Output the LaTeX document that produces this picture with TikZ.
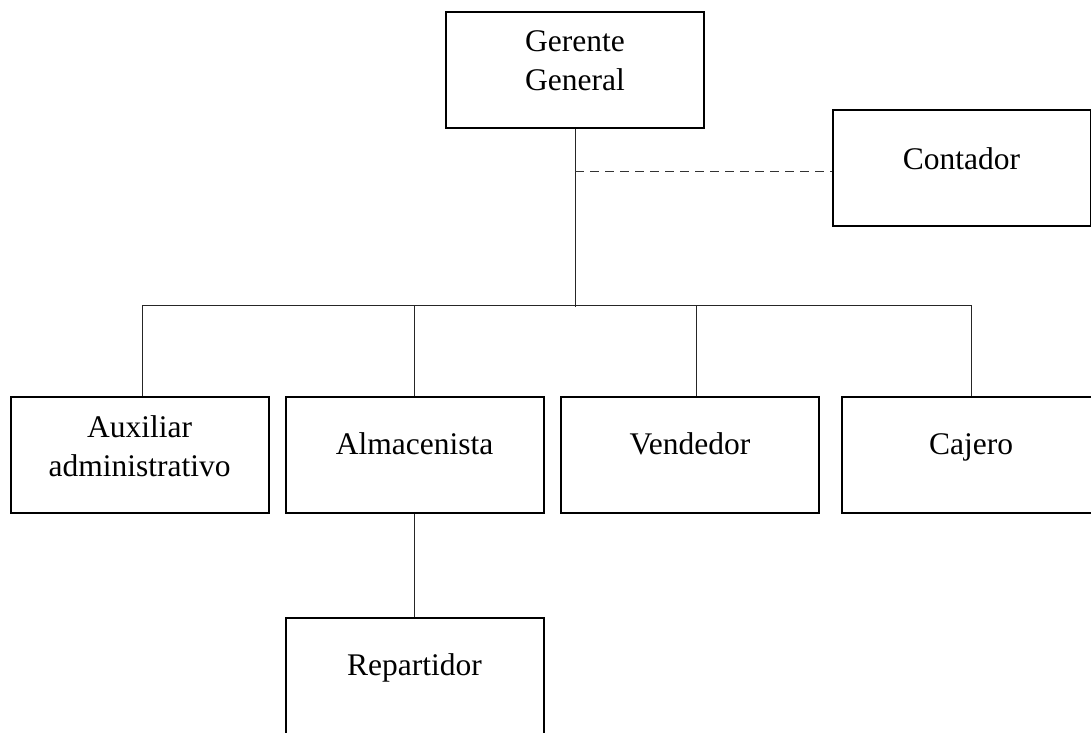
\documentclass[tikz,border=0pt]{standalone}
\usepackage{fontspec}
\setmainfont{Liberation Serif}
\begin{document}
\begin{tikzpicture}[x=1pt, y=-1pt,
  box/.style={draw, line width=2pt, minimum width=258pt, minimum height=116pt, inner sep=0pt},
  lbl/.style={font=\fontsize{31.5}{39}\selectfont, align=center, anchor=base, inner sep=0pt},
  link/.style={line width=1pt, draw=black!85},
  staff link/.style={line width=1pt, draw=black!80, dash pattern=on 9pt off 6pt}
]
\useasboundingbox (0,0) rectangle (1091,732);
\clip (0,0) rectangle (1091,732);
\fill[white] (0,0) rectangle (1091,732);

% positions
\node[box] (gg)   at (575,70)    {};
\node[box] (cont) at (961.5,168) {};
\node[box] (aux)  at (139.5,455) {};
\node[box] (alm)  at (414.5,455) {};
\node[box] (ven)  at (690,455)   {};
\node[box] (caj)  at (971,455)   {};
\node[box] (rep)  at (414.5,676) {};

% titles (base anchor sits on the last line)
\node[lbl] (ggt)   at ([yshift=-79pt]gg.north)   {Gerente\\General};
\node[lbl] (contt) at ([yshift=-60pt]cont.north) {Contador};
\node[lbl] (auxt)  at ([yshift=-80pt]aux.north)  {Auxiliar\\administrativo};
\node[lbl] (almt)  at ([yshift=-58pt]alm.north)  {Almacenista};
\node[lbl] (vent)  at ([yshift=-58pt]ven.north)  {Vendedor};
\node[lbl] (cajt)  at ([yshift=-58pt]caj.north)  {Cajero};
\node[lbl] (rept)  at ([yshift=-58pt]rep.north)  {Repartidor};

% trunk and bus
\coordinate (trunk) at (575,307);
\coordinate (busL) at (142,305);
\coordinate (busR) at (971,305);
\coordinate (venTop) at (696,305);
\coordinate (staffTap) at (575,171);

\draw[link] (gg.south) -- (trunk);
\draw[link] (busL) -- (busR);
\draw[link] (busL) -- (busL |- aux.north);
\draw[link] (alm.north |- busL) -- (alm.north);
\draw[link] (venTop) -- (venTop |- ven.north);
\draw[link] (caj.north |- busR) -- (caj.north);
\draw[link] (alm.south) -- (rep.north);
\draw[staff link] (staffTap) -- (staffTap -| cont.west);
\end{tikzpicture}
\end{document}
